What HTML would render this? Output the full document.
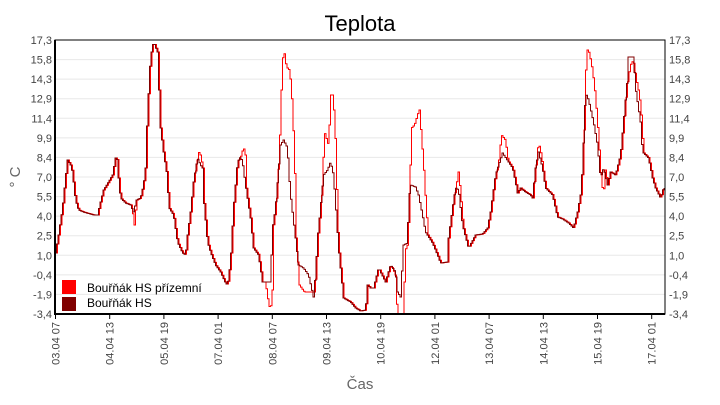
<!DOCTYPE html>
<html><head><meta charset="utf-8"><style>
body{margin:0;background:#fff;width:720px;height:400px;overflow:hidden;font-family:"Liberation Sans",sans-serif}
</style></head><body>
<svg id="s" width="720" height="400" xmlns="http://www.w3.org/2000/svg" font-family="Liberation Sans, sans-serif">
<text x="360" y="31" font-size="22" text-anchor="middle" fill="#000">Teplota</text>
<g id="grid"></g>
<g id="lines"></g>
<rect x="55" y="40" width="610" height="274" fill="none" stroke="#000" stroke-width="1"/>
<line x1="55" y1="40" x2="55" y2="315" stroke="#000" stroke-width="2"/>
<line x1="54" y1="314" x2="665" y2="314" stroke="#000" stroke-width="2"/>
<text x="360" y="389" font-size="15" text-anchor="middle" fill="#666">Čas</text>
<text transform="translate(20,177) rotate(-90)" font-size="15" text-anchor="middle" fill="#666">° C</text>
<rect x="62" y="280" width="14" height="14" fill="#ff0000"/>
<rect x="62" y="297" width="14" height="14" fill="#800000"/>
<text x="87" y="292" font-size="12" fill="#000">Bouřňák HS přízemní</text>
<text x="87" y="307" font-size="12" fill="#000">Bouřňák HS</text>
</svg>
<script>
var NS="http://www.w3.org/2000/svg",g=document.getElementById('grid'),L=document.getElementById('lines');
function el(t,a,p,tx){var e=document.createElementNS(NS,t);for(var k in a)e.setAttribute(k,a[k]);if(tx)e.textContent=tx;p.appendChild(e);return e;}
var yl=["17,3","15,8","14,3","12,9","11,4","9,9","8,4","7,0","5,5","4,0","2,5","1,0","-0,4","-1,9","-3,4"];
for(var i=0;i<15;i++){var y=40+i*274/14;
if(i>0&&i<14)el('line',{x1:56,x2:665,y1:y,y2:y,stroke:'#e8e8e8'},g);
el('text',{x:52,y:y+4,'font-size':11,'text-anchor':'end',fill:'#444'},g,yl[i]);
el('text',{x:669,y:y+4,'font-size':11,fill:'#444'},g,yl[i]);}
var xl=["03.04 07","04.04 13","05.04 19","07.04 01","08.04 07","09.04 13","10.04 19","12.04 01","13.04 07","14.04 13","15.04 19","17.04 01"];
for(var i=0;i<12;i++){var x=55.5+i*54.2;
el('line',{x1:x,x2:x,y1:314,y2:319,stroke:'#000'},g);
el('text',{transform:'translate('+(x+4)+',322) rotate(-90)','font-size':11,'text-anchor':'end',fill:'#444'},g,xl[i]);}
var D=[[55,253],[58,235],[62,208],[65,178],[67,160],[70,165],[72,172],[73,182],[75,200],[78,210],[83,212],[93,215],[97,215],[100,202],[103,190],[108,182],[112,175],[115,158],[117,160],[118,178],[120,198],[125,203],[130,205],[133,212],[136,200],[140,198],[143,185],[145,168],[147,112],[150,57],[153,42],[157,52],[160,128],[163,152],[167,178],[168,207],[173,215],[177,242],[182,253],[185,255],[187,235],[190,212],[193,182],[197,158],[200,165],[202,168],[203,198],[207,242],[210,252],[215,265],[220,272],[225,283],[227,285],[230,262],[233,208],[237,162],[240,157],[242,162],[245,185],[250,218],[253,248],[258,255],[262,282],[270,282],[272,228],[275,208],[280,145],[283,140],[287,148],[288,168],[290,195],[295,238],[298,265],[303,268],[308,275],[313,297],[315,275],[317,238],[320,208],[323,175],[327,170],[330,162],[333,175],[336,217],[338,248],[343,298],[350,302],[355,308],[360,311],[365,310],[367,285],[370,288],[373,288],[378,268],[385,282],[390,265],[395,272],[397,292],[400,297],[403,245],[407,243],[408,202],[410,185],[415,187],[418,195],[422,215],[425,232],[432,243],[437,255],[440,263],[447,262],[448,238],[452,208],[455,188],[458,190],[462,225],[468,248],[475,235],[482,234],[487,228],[490,212],[495,175],[502,153],[508,162],[512,168],[515,182],[517,193],[520,188],[525,192],[530,195],[532,198],[535,168],[538,152],[542,168],[545,188],[552,195],[557,217],[562,219],[568,223],[573,228],[577,212],[580,195],[582,168],[585,93],[588,100],[593,122],[597,145],[600,178],[603,168],[607,185],[610,172],[615,175],[620,155],[623,122],[627,78],[628,57],[633,57],[635,88],[640,122],[642,152],[648,158],[652,178],[655,188],[660,198],[663,188],[665,188]];
var segs=[[[131,210],[133,225],[135,205]],[[196,160],[198,150],[200,160]],[[240,155],[242,147],[244,155]],[[264,282],[267,302],[269,311],[271,290]],[[278,150],[280,90],[282,47],[285,67],[288,70],[290,88],[293,152],[295,238]],[[297,270],[298,285],[303,292],[313,292],[315,275]],[[320,208],[323,132],[327,145],[330,85],[333,115],[335,162],[336,217]],[[394,275],[396,314],[402,314],[404,250]],[[408,202],[410,128],[413,125],[417,112],[418,110],[422,162],[425,212],[427,235]],[[455,185],[457,172],[459,190]],[[497,165],[500,135],[504,140],[507,162]],[[535,165],[537,142],[540,155]],[[583,130],[585,50],[587,50],[590,63],[593,85],[596,120],[600,180],[602,195],[604,170]],[[626,85],[629,65],[632,60],[635,80],[638,95],[641,125]]];
var R=D.filter(function(p){return !segs.some(function(s){return p[0]>=s[0][0]&&p[0]<=s[s.length-1][0];});});
segs.forEach(function(s){R=R.concat(s);});R.sort(function(a,b){return a[0]-b[0];});
function path(P,off){var d='',step=1.5;for(var x=55;x<=665;x+=step){var j=0;while(j<P.length-2&&P[j+1][0]<x)j++;var a=P[j],b=P[j+1];var t=(x-a[0])/(b[0]-a[0]||1);t=Math.max(0,Math.min(1,t));var y=a[1]+(b[1]-a[1])*t;y=Math.min(314,Math.max(40,y));var X=Math.min(665,x+off).toFixed(1);d+=(d?'H'+X+'V':'M'+X+',')+y.toFixed(1);}return d;}
el('path',{d:path(R,1),fill:'none',stroke:'#ff0000','stroke-width':1},L);
el('path',{d:path(D,0),fill:'none',stroke:'#800000','stroke-width':1},L);
</script>
</body></html>
